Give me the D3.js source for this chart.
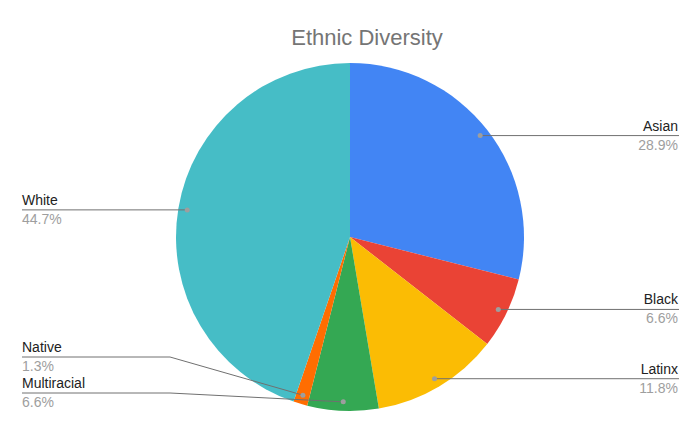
<!DOCTYPE html>
<html>
<head>
<meta charset="utf-8">
<script src="https://cdn.jsdelivr.net/npm/d3@7"></script>
<style>
  body { margin: 0; background: #fff; }
  svg text { font-family: "Liberation Sans", Arial, sans-serif; }
</style>
</head>
<body>
<svg width="700" height="433"></svg>
<script>
// data
var categories = ['Asian', 'Black', 'Latinx', 'Multiracial', 'Native', 'White'];
var shares = [28.9, 6.6, 11.8, 6.6, 1.3, 44.7];
var colors = ['#4285f4', '#ea4335', '#fbbc04', '#34a853', '#ff6d01', '#46bdc6'];

var dataset = categories.map(function(c, i) {
    return { name: c, value: shares[i], color: colors[i] };
});

var svg = d3.select('svg');
var cx = 350, cy = 237, radius = 174;

svg.append('text')
    .attr('x', 367)
    .attr('y', 45)
    .attr('text-anchor', 'middle')
    .attr('fill', '#757575')
    .style('font-size', '22px')
    .text('Ethnic Diversity');

var pie = d3.pie().sort(null).value(function(d) { return d.value; });
var arc = d3.arc().innerRadius(0).outerRadius(radius);
var arcs = pie(dataset);

var g = svg.append('g').attr('transform', 'translate(' + cx + ',' + cy + ')');

g.selectAll('path')
    .data(arcs)
    .enter()
    .append('path')
    .attr('d', arc)
    .attr('fill', function(d) { return d.data.color; });

// anchor points for the leader lines
var dotR = 165;
arcs.forEach(function(d) {
    var a = (d.startAngle + d.endAngle) / 2;
    d.dx = cx + dotR * Math.sin(a);
    d.dy = cy - dotR * Math.cos(a);
    d.right = a < Math.PI;
    d.ly = d.dy;
});

// push left labels apart, going up from the bottom
var left = arcs.filter(function(d) { return !d.right; })
    .sort(function(a, b) { return b.dy - a.dy; });
var limit = 393;
left.forEach(function(d) {
    d.ly = Math.min(d.dy, limit);
    limit = d.ly - 36;
});

var lines = svg.append('g');
arcs.forEach(function(d) {
    var pts;
    if (d.right) {
        pts = [[d.dx, d.dy], [679, d.ly]];
    } else {
        pts = [[22, d.ly], [170, d.ly], [d.dx, d.dy]];
    }
    lines.append('path')
        .attr('d', d3.line()(pts))
        .attr('fill', 'none')
        .attr('stroke', '#707070')
        .attr('stroke-width', 1);
    lines.append('circle')
        .attr('cx', d.dx)
        .attr('cy', d.dy)
        .attr('r', 2.5)
        .attr('fill', '#9e9e9e');

    var tx = d.right ? 678 : 22;
    var anchor = d.right ? 'end' : 'start';
    lines.append('text')
        .attr('x', tx)
        .attr('y', d.ly - 5)
        .attr('text-anchor', anchor)
        .attr('fill', '#222')
        .style('font-size', '14px')
        .text(d.data.name);
    lines.append('text')
        .attr('x', tx)
        .attr('y', d.ly + 14)
        .attr('text-anchor', anchor)
        .attr('fill', '#9e9e9e')
        .style('font-size', '14px')
        .text(d.data.value.toFixed(1) + '%');
});
</script>
</body>
</html>
